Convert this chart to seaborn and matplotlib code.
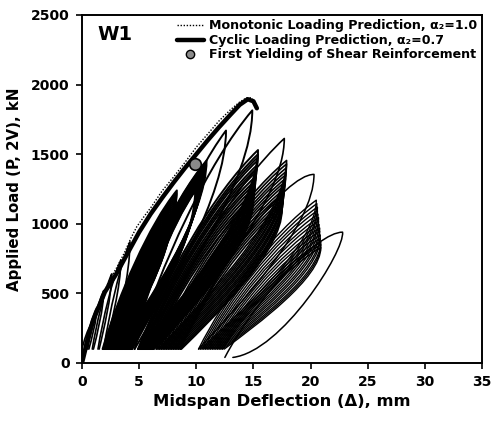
import numpy as np
import pandas as pd
import matplotlib
matplotlib.use("Agg")
import matplotlib.pyplot as plt
from matplotlib.path import Path
from matplotlib.patches import PathPatch
from matplotlib.lines import Line2D
import seaborn as sns

# ---------------- data (mm, kN) ----------------
mono_x = [0.0, 0.3, 0.7, 1.2, 1.8, 2.3, 3.0, 3.7, 4.3, 4.8, 5.5, 6.1, 7.0, 8.0,
          9.0, 10.0, 11.0, 12.0, 13.0, 13.8, 14.4, 14.8, 15.1]
mono_y = [0, 120, 250, 370, 480, 580, 680, 790, 900, 980, 1060, 1125, 1235, 1335,
          1440, 1550, 1645, 1740, 1820, 1875, 1905, 1905, 1880]

cyc_x = [0.0, 0.5, 1.0, 2.0, 3.0, 4.0, 5.0, 6.0, 7.0, 8.0, 9.0, 10.0, 11.0, 12.0,
         13.0, 13.8, 14.5, 15.0, 15.3]
cyc_y = [0, 170, 310, 510, 640, 790, 940, 1070, 1185, 1295, 1400, 1500, 1600, 1695,
         1785, 1855, 1895, 1880, 1830]

yield_x = [9.9]
yield_y = [1432]

# experimental cycles: reload start, peak deflection, peak load, unload end
a_start = [0.0, 0.2, 0.5, 0.9, 1.4, 1.9]
a_px    = [0.8, 1.3, 1.9, 2.6, 3.4, 4.2]
a_py    = [280, 400, 520, 640, 740, 870]
a_end   = [0.3, 0.6, 1.0, 1.5, 2.0, 2.6]

b_start = [1.8, 1.9, 2.0, 2.1, 2.2, 2.3, 2.4, 2.5, 2.6, 2.7, 2.8, 2.9, 3.0]
b_px    = [8.3, 8.25, 8.2, 8.15, 8.1, 8.05, 8.0, 7.95, 7.9, 7.85, 7.8, 7.7, 7.6]
b_py    = [1240, 1220, 1200, 1180, 1160, 1140, 1120, 1100, 1080, 1060, 1040, 1020, 1000]
b_end   = [1.9, 2.0, 2.1, 2.2, 2.3, 2.4, 2.5, 2.6, 2.7, 2.8, 2.9, 3.0, 3.1]

c_start = [2.9, 3.0, 3.1, 3.2, 3.3, 3.4, 3.5, 3.6, 3.7, 3.8, 3.9, 4.0, 4.1, 4.2, 4.3]
c_px    = [10.9, 10.8, 10.7, 10.65, 10.6, 10.5, 10.45, 10.4, 10.3, 10.25, 10.2, 10.1,
           10.05, 10.0, 9.9]
c_py    = [1455, 1440, 1420, 1400, 1385, 1370, 1355, 1340, 1325, 1310, 1295, 1280,
           1265, 1250, 1235]
c_end   = [3.0, 3.1, 3.2, 3.3, 3.4, 3.5, 3.6, 3.7, 3.8, 3.9, 4.0, 4.1, 4.2, 4.3, 4.4]

d_start = [4.3, 4.6, 4.9, 5.0, 5.1, 5.2, 5.3, 5.4, 5.5, 5.6, 5.7, 5.8, 5.9, 6.0, 6.1, 6.2]
d_px    = [12.6, 14.9, 15.4, 15.4, 15.35, 15.3, 15.3, 15.25, 15.2, 15.2, 15.15, 15.1,
           15.1, 15.05, 15.0, 15.0]
d_py    = [1670, 1815, 1530, 1500, 1475, 1450, 1420, 1395, 1370, 1340, 1310, 1285,
           1260, 1230, 1200, 1170]
d_end   = [4.6, 4.9, 5.0, 5.1, 5.2, 5.3, 5.4, 5.5, 5.6, 5.7, 5.8, 5.9, 6.0, 6.1, 6.2, 6.3]

e_start = [6.2, 6.5, 6.65, 6.8, 6.95, 7.1, 7.25, 7.4, 7.55, 7.7, 7.85, 8.0, 8.15, 8.3,
           8.45, 8.6]
e_px    = [17.7, 17.9, 17.9, 17.85, 17.85, 17.8, 17.8, 17.75, 17.7, 17.7, 17.65, 17.6,
           17.6, 17.55, 17.5, 17.5]
e_py    = [1613, 1455, 1430, 1400, 1375, 1350, 1325, 1300, 1275, 1250, 1225, 1200,
           1175, 1150, 1125, 1100]
e_end   = [6.5, 6.65, 6.8, 6.95, 7.1, 7.25, 7.4, 7.55, 7.7, 7.85, 8.0, 8.15, 8.3, 8.45,
           8.6, 8.7]

h_start = [8.6]
h_px    = [20.3]
h_py    = [1355]
h_end   = [10.2]

f_start = [10.2, 10.35, 10.5, 10.65, 10.8, 10.95, 11.1, 11.25, 11.4, 11.55, 11.7,
           11.85, 12.0, 12.15, 12.3]
f_px    = [20.5, 20.55, 20.6, 20.6, 20.65, 20.7, 20.7, 20.75, 20.8, 20.8, 20.85,
           20.85, 20.9, 20.9, 20.9]
f_py    = [1170, 1145, 1120, 1095, 1070, 1045, 1020, 995, 970, 945, 920, 895,
           870, 850, 830]
f_end   = [10.35, 10.5, 10.65, 10.8, 10.95, 11.1, 11.25, 11.4, 11.55, 11.7, 11.85,
           12.0, 12.15, 12.3, 12.45]

g_start = [12.5]
g_px    = [22.8]
g_py    = [940]
g_end   = [13.2]

base_load = 100
last_base_load = 40

# ---------------- figure ----------------
sns.set_style("ticks")
plt.rcParams['font.family'] = ['DejaVu Sans']
plt.rcParams['font.weight'] = 'bold'
for key in ['text.color', 'axes.labelcolor', 'xtick.color', 'ytick.color',
            'axes.edgecolor']:
    plt.rcParams[key] = 'black'

fig = plt.figure(figsize=(4.94, 4.21), dpi=100)
ax = fig.add_axes([82/494, 58/421, 400/494, 348/421])

# curve shape (style) of a loop: control-point fractions of the loop extent
RELOAD = ((0.22, 0.35), (0.38, 0.22))
RELOAD_ROUND = ((0.25, 0.45), (0.22, 0.0))
UNLOAD = ((0.0, 0.30), (0.35, 0.25))
UNLOAD_LAST = ((0.02, 0.15), (0.45, 0.05))


def draw_band(starts, pxs, pys, ends, yb, lw=1.3, reload=RELOAD, unload=UNLOAD):
    (r1, r2), (u1, u2) = reload, unload
    for xs, xp, yp, xe in zip(starts, pxs, pys, ends):
        dx = xp - xs
        dxe = xp - xe
        dy = yp - yb
        verts = [(xs, yb),
                 (xs + r1[0] * dx, yb + r1[1] * dy),
                 (xp - r2[0] * dx, yp - r2[1] * dy),
                 (xp, yp),
                 (xp + u1[0] * dxe, yp - u1[1] * dy),
                 (xe + u2[0] * dxe, yb + u2[1] * dy),
                 (xe, yb)]
        codes = [Path.MOVETO, Path.CURVE4, Path.CURVE4, Path.CURVE4,
                 Path.CURVE4, Path.CURVE4, Path.CURVE4]
        ax.add_patch(PathPatch(Path(verts, codes), fill=False, ec='black',
                               lw=lw, joinstyle='round', capstyle='round'))


draw_band(a_start, a_px, a_py, a_end, base_load, lw=1.2)
draw_band(b_start, b_px, b_py, b_end, base_load, lw=1.4)
draw_band(c_start, c_px, c_py, c_end, base_load, lw=1.4)
draw_band(d_start, d_px, d_py, d_end, base_load, lw=1.4)
draw_band(e_start, e_px, e_py, e_end, base_load, lw=1.2)
draw_band(h_start, h_px, h_py, h_end, base_load, lw=1.1, reload=RELOAD_ROUND)
draw_band(f_start, f_px, f_py, f_end, base_load, lw=1.0)
draw_band(g_start, g_px, g_py, g_end, last_base_load, lw=1.1,
          reload=RELOAD_ROUND, unload=UNLOAD_LAST)

mono = pd.DataFrame({"x": mono_x, "y": mono_y})
cyc = pd.DataFrame({"x": cyc_x, "y": cyc_y})
sns.lineplot(data=mono, x="x", y="y", ax=ax, color="black", lw=1.0,
             linestyle=(0, (1, 1.2)), sort=False, estimator=None)
sns.lineplot(data=cyc, x="x", y="y", ax=ax, color="black", lw=3.2,
             sort=False, estimator=None, solid_capstyle='round')
sns.scatterplot(x=yield_x, y=yield_y, ax=ax, s=70, color="#8a8a8a",
                edgecolor="black", linewidth=1.2, zorder=5)

ax.set_xlim(0, 35)
ax.set_ylim(0, 2500)
ax.set_xticks(range(0, 36, 5))
ax.set_yticks(range(0, 2501, 500))
ax.tick_params(direction='out', length=4, width=1.2, labelsize=10, pad=5)
for lab in ax.get_xticklabels() + ax.get_yticklabels():
    lab.set_fontweight('heavy')
for sp in ax.spines.values():
    sp.set_visible(True)
    sp.set_linewidth(1.4)
    sp.set_color('black')

ax.set_xlabel("Midspan Deflection (\u0394), mm", fontsize=11.8, fontweight='heavy', labelpad=3)
ax.set_ylabel("Applied Load (P, 2V), kN", fontsize=10.8, fontweight='heavy', labelpad=6)

ax.text(0.038, 0.945, "W1", transform=ax.transAxes, fontsize=14, fontweight='heavy',
        va='center', ha='left')

handles = [Line2D([], [], color='black', lw=1.0, linestyle=(0, (1, 1.2))),
           Line2D([], [], color='black', lw=3.2),
           Line2D([], [], color='none', marker='o', markersize=6,
                  markerfacecolor='#8a8a8a', markeredgecolor='black', markeredgewidth=1.0)]
labels = ["Monotonic Loading Prediction, \u03b1\u2082=1.0",
          "Cyclic Loading Prediction, \u03b1\u2082=0.7",
          "First Yielding of Shear Reinforcement"]
leg = ax.legend(handles, labels, loc='upper right', frameon=False,
                prop={'size': 9.1, 'weight': 'heavy'}, handlelength=2.2,
                handletextpad=0.4, labelspacing=0.12, borderaxespad=0.0,
                borderpad=0.35)

fig.savefig("out.png", dpi=100)
